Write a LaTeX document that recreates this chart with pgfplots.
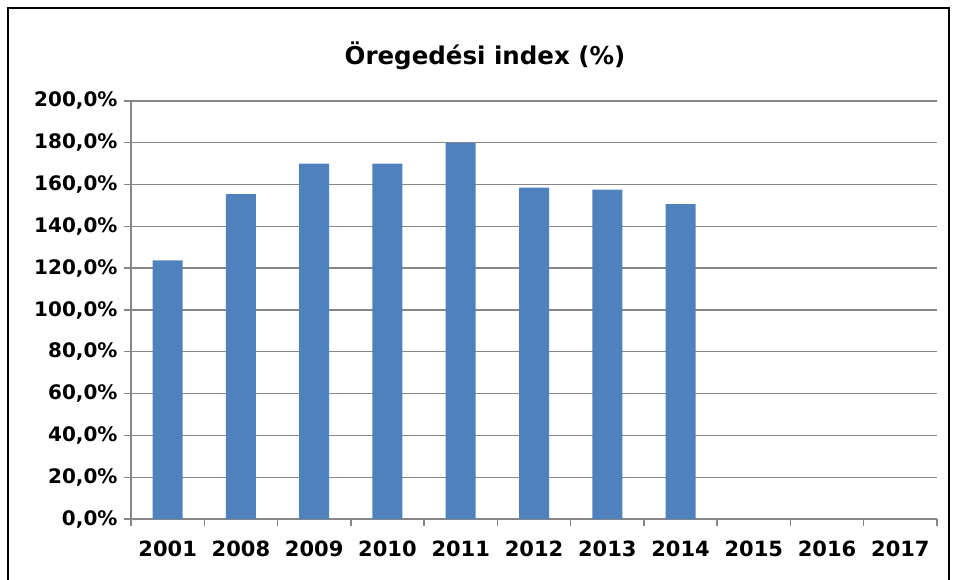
\documentclass[border=0pt]{standalone}
\usepackage{pgfplots}
\pgfplotsset{compat=1.18}
\usepackage{fontspec}
\setmainfont{DejaVu Sans}
\definecolor{barblue}{HTML}{4F81BD}
\definecolor{gridgray}{HTML}{868686}
\begin{document}
\begin{tikzpicture}[x=1pt,y=1pt]
\useasboundingbox (-131,-60) rectangle (823,519);
\clip (-131,-60) rectangle (823,519);
\draw[line width=2pt] (-123,-100) rectangle (818,511);
\begin{axis}[at={(0,0)}, anchor=south west, scale only axis,
  width=806pt, height=418pt,
  xmin=-0.5, xmax=10.5, ymin=0, ymax=200,
  axis lines*=left,
  axis line style={gridgray, line width=1.4pt},
  ymajorgrids, grid style={gridgray, line width=1.4pt},
  ybar, bar width=30pt,
  xtick={0,...,10},
  xticklabels={2001,2008,2009,2010,2011,2012,2013,2014,2015,2016,2017},
  minor xtick={-0.5,0.5,...,10.5},
  major x tick style={draw=none},
  minor x tick style={gridgray, line width=1.4pt},
  y tick style={gridgray, line width=1.4pt},
  tick align=outside,
  major tick length=7pt, minor tick length=7pt,
  ytick={0,20,...,200},
  yticklabel={\pgfmathprintnumber[fixed,fixed zerofill,precision=1,use comma]{\tick}\%},
  /pgf/number format/assume math mode=true,
  yticklabel style={font=\bfseries\fontsize{20}{22}\selectfont, xshift=-3pt},
  xticklabel style={font=\bfseries\fontsize{21}{24}\selectfont, yshift=-11pt},
]
\addplot[fill=barblue, draw=none] coordinates {
(0,123.8) (1,155.5) (2,170.0) (3,170.0) (4,180.0) (5,158.5) (6,157.6) (7,150.7)
};
\end{axis}
\node[font=\bfseries\fontsize{24.5}{27}\selectfont] at (354,463) {Öregedési index (\%)};
\end{tikzpicture}
\end{document}
